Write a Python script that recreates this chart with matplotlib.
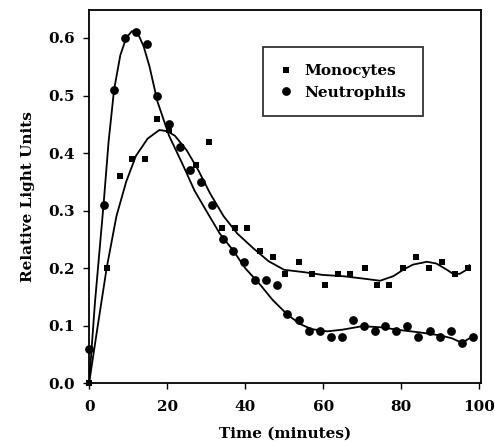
import matplotlib
matplotlib.use("Agg")
import matplotlib.pyplot as plt

# === Measured points ===
neut_t = [0, 3.7, 6.4, 9.2, 12.1, 14.9, 17.5, 20.4, 23.2, 25.9, 28.6, 31.5,
          34.3, 37.0, 39.6, 42.5, 45.4, 48.1, 50.7, 53.7, 56.4, 59.2, 62.0,
          64.8, 67.6, 70.5, 73.2, 75.9, 78.7, 81.5, 84.3, 87.3, 90.0, 92.8,
          95.6, 98.4]
neut_y = [0.06, 0.31, 0.51, 0.60, 0.61, 0.59, 0.50, 0.45, 0.41, 0.37, 0.35, 0.31,
          0.25, 0.23, 0.21, 0.18, 0.18, 0.17, 0.12, 0.11, 0.09, 0.09, 0.08,
          0.08, 0.11, 0.10, 0.09, 0.10, 0.09, 0.10, 0.08, 0.09, 0.08, 0.09,
          0.07, 0.08]

mono_t = [0, 4.5, 7.8, 10.9, 14.4, 17.5, 20.5, 23.5, 27.4, 30.7, 34.0, 37.3,
          40.6, 43.8, 47.1, 50.3, 53.9, 57.1, 60.5, 63.8, 67.0, 70.6, 73.8,
          76.9, 80.4, 83.8, 87.1, 90.5, 93.8, 97.2]
mono_y = [0.0, 0.20, 0.36, 0.39, 0.39, 0.46, 0.44, 0.41, 0.38, 0.42, 0.27, 0.27,
          0.27, 0.23, 0.22, 0.19, 0.21, 0.19, 0.17, 0.19, 0.19, 0.20, 0.17,
          0.17, 0.20, 0.22, 0.20, 0.21, 0.19, 0.20]

# === Fitted curves ===
neut_fit_t = [0, 1.5, 3.7, 5, 6.4, 8, 9.5, 11, 12.5, 14, 15.5, 17.5, 20.5, 24,
              27, 30, 33.5, 37, 40, 44, 47, 50.7, 54, 57, 61, 65, 70, 75, 80,
              85, 90, 93, 95.6, 98]
neut_fit_y = [0.0, 0.14, 0.31, 0.42, 0.51, 0.57, 0.60, 0.612, 0.608, 0.585,
              0.55, 0.49, 0.43, 0.38, 0.335, 0.30, 0.26, 0.23, 0.20, 0.17, 0.145,
              0.12, 0.103, 0.094, 0.09, 0.093, 0.099, 0.097, 0.092, 0.088, 0.083,
              0.078, 0.07, 0.08]

mono_fit_t = [0, 2, 4.5, 7, 9.5, 12, 15, 18, 20, 22, 25, 28, 31, 34.5, 38,
              42, 46, 50, 55, 60, 65, 70, 74.6, 78, 80.5, 83, 86.6, 89, 91.5,
              93.3, 95, 96.5, 97.5]
mono_fit_y = [0.0, 0.09, 0.20, 0.29, 0.35, 0.395, 0.425, 0.44, 0.438, 0.43,
              0.405, 0.37, 0.33, 0.29, 0.26, 0.235, 0.212, 0.197, 0.193, 0.188,
              0.186, 0.182, 0.178, 0.186, 0.197, 0.206, 0.211, 0.208, 0.198,
              0.19, 0.19, 0.196, 0.205]

x_ticks = [0, 20, 40, 60, 80, 100]
y_ticks = [0.0, 0.1, 0.2, 0.3, 0.4, 0.5, 0.6]

plt.rcParams['font.family'] = ['DejaVu Serif']
plt.rcParams['font.weight'] = 'bold'

fig = plt.figure(figsize=(4.95, 4.45), dpi=100)
ax = fig.add_axes([0.18, 0.139, 0.792, 0.839])

ax.plot(neut_fit_t, neut_fit_y, color='black', lw=1.3)
ax.plot(mono_fit_t, mono_fit_y, color='black', lw=1.3)
ax.plot(mono_t, mono_y, 's', color='black', ms=4.3, mew=0, clip_on=False, label='Monocytes')
ax.plot(neut_t, neut_y, 'o', color='black', ms=6.3, mew=0, clip_on=False, label='Neutrophils')

ax.set_xlim(0, 100.5)
ax.set_ylim(0, 0.649)
ax.set_xticks(x_ticks)
ax.set_yticks(y_ticks)
ax.set_yticklabels([f"{v:.1f}" for v in y_ticks])
ax.tick_params(direction='out', length=4, width=1, labelsize=11)
ax.tick_params(axis='y', pad=6)
ax.tick_params(axis='x', pad=8)
for s in ax.spines.values():
    s.set_linewidth(1.3)

ax.set_xlabel('Time (minutes)', fontsize=11, fontweight='bold', labelpad=9)
ax.set_ylabel('Relative Light Units', fontsize=11, fontweight='bold', labelpad=10)

leg = ax.legend(loc='upper left', bbox_to_anchor=(0.444, 0.90), fontsize=11,
                frameon=True, fancybox=False, edgecolor='black', handlelength=0.8,
                handletextpad=0.8, borderpad=1.1, labelspacing=0.5, borderaxespad=0)
leg.get_frame().set_linewidth(1.3)

plt.savefig('out.png', dpi=100)
